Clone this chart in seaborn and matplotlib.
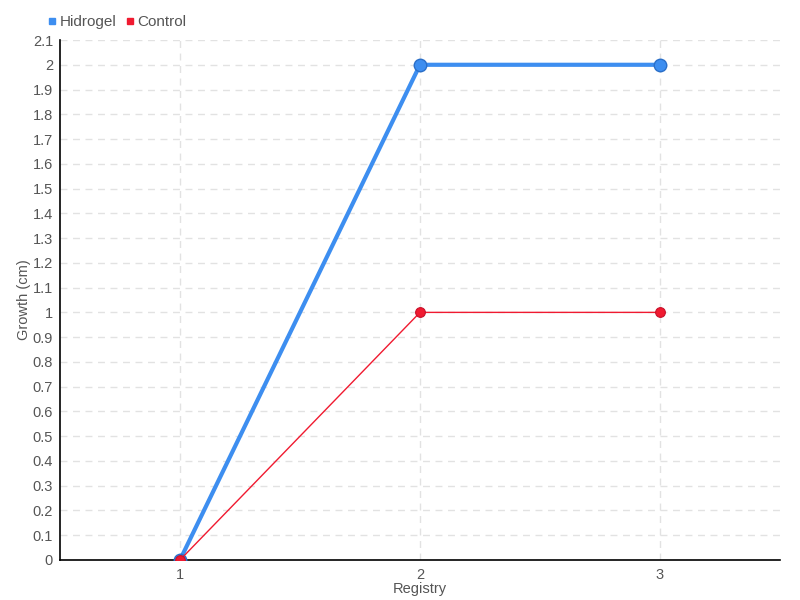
import numpy as np
import pandas as pd
import matplotlib
matplotlib.use("Agg")
import matplotlib.pyplot as plt
import matplotlib.ticker as mticker
from matplotlib.lines import Line2D
import seaborn as sns

registry = [1, 2, 3]
hidrogel = [0, 2, 2]
control = [0, 1, 1]

BLUE = "#3d8ef0"
RED = "#f01a30"
TXT = "#555555"

sns.set_style("white")
plt.rcParams["font.family"] = ["Liberation Sans", "DejaVu Sans"]

df = pd.DataFrame({
    "Registry": registry * 2,
    "Growth": hidrogel + control,
    "series": ["Hidrogel"] * 3 + ["Control"] * 3,
})

fig = plt.figure(figsize=(8, 6), dpi=100)
ax = fig.add_axes([0.075, 0.0667, 0.9, 0.8666])

sns.lineplot(data=df[df.series == "Hidrogel"], x="Registry", y="Growth",
             color=BLUE, linewidth=3, marker="o", markersize=9,
             markeredgecolor="#2a6fc9", markeredgewidth=1, ax=ax, zorder=3)
sns.lineplot(data=df[df.series == "Control"], x="Registry", y="Growth",
             color=RED, linewidth=1, marker="o", markersize=7,
             markeredgecolor="#c8102a", markeredgewidth=0.8, ax=ax, zorder=4)

ax.set_xlim(0.5, 3.5)
ax.set_ylim(0, 2.1)
ax.xaxis.set_major_locator(mticker.FixedLocator(registry))
ax.yaxis.set_major_locator(mticker.MultipleLocator(0.1))
ax.yaxis.set_major_formatter(mticker.FuncFormatter(lambda v, p: f"{round(v, 1):g}"))
ax.xaxis.set_major_formatter(mticker.FuncFormatter(lambda v, p: f"{v:g}"))

ax.grid(True, color="#e2e2e2", linestyle=(0, (5, 4)), linewidth=1)
for s in ["top", "right"]:
    ax.spines[s].set_visible(False)
for s in ["left", "bottom"]:
    ax.spines[s].set_color("black")
    ax.spines[s].set_linewidth(1.2)

ax.tick_params(axis="y", direction="inout", length=6, width=1, color="black",
               labelsize=10.5, labelcolor=TXT, pad=2)
ax.tick_params(axis="x", direction="out", length=6, width=1, color="#333333",
               labelsize=10.5, labelcolor=TXT, pad=0)
ax.set_xlabel("Registry", fontsize=10.5, color=TXT, labelpad=0)
ax.set_ylabel("Growth (cm)", fontsize=10.5, color=TXT, labelpad=1)

handles = [
    Line2D([], [], linestyle="none", marker="s", markersize=5, color=BLUE, label="Hidrogel"),
    Line2D([], [], linestyle="none", marker="s", markersize=5, color=RED, label="Control"),
]
fig.legend(handles=handles, loc="upper left", bbox_to_anchor=(0.042, 0.998),
           ncol=2, frameon=False, handlelength=0.6, handletextpad=0.2,
           columnspacing=0.6, fontsize=11, labelcolor=TXT)

fig.savefig("out.png", dpi=100)
